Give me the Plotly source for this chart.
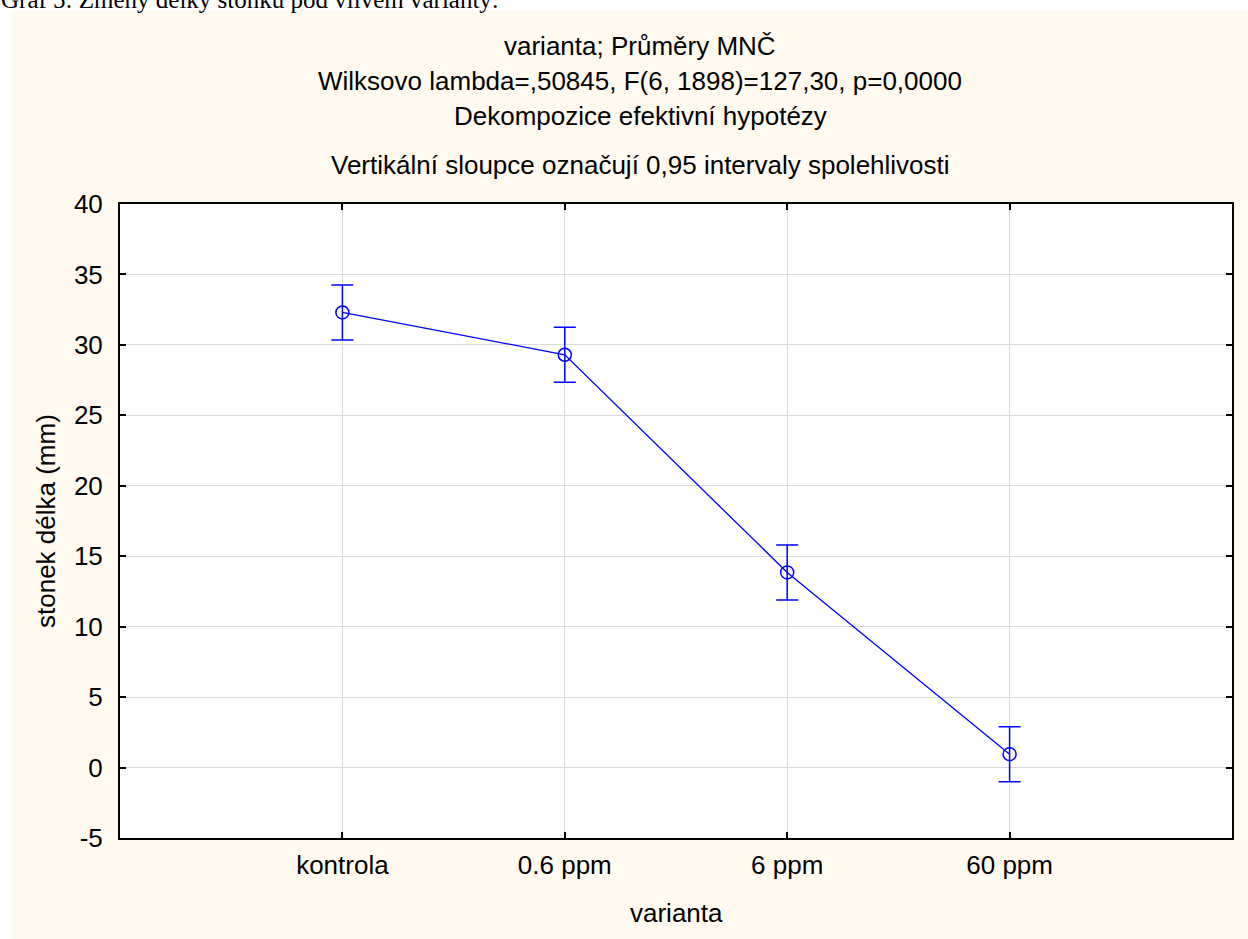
import plotly.graph_objects as go

categories = ["kontrola", "0.6 ppm", "6 ppm", "60 ppm"]
means = [32.3, 29.3, 13.85, 0.95]
ci_half = [1.95, 1.95, 1.95, 1.95]
y_ticks = [-5, 0, 5, 10, 15, 20, 25, 30, 35, 40]
y_tick_labels = ["-5", "0", "5", "10", "15", "20", "25", "30", "35", "40"]

title_lines = [
    "varianta; Průměry MNČ",
    "Wilksovo lambda=,50845, F(6, 1898)=127,30, p=0,0000",
    "Dekompozice efektivní hypotézy",
    "Vertikální sloupce označují 0,95 intervaly spolehlivosti",
]
caption = "Graf 5: Změny délky stonku pod vlivem varianty:"

W, H = 1248, 939
L, R, T, B = 120, 16, 204, 101
pw, ph = W - L - R, H - T - B

def px_x(px):
    return (px - L) / pw

def px_y(py):
    return (H - B - py) / ph

blue = "#0000FF"
cream = "#FFFAF0"
font = "Liberation Sans, Arial, sans-serif"
FS = 26

fig = go.Figure()
fig.add_trace(go.Scatter(
    x=categories, y=means, mode="lines+markers",
    line=dict(color=blue, width=1.3),
    marker=dict(symbol="circle-open", size=13, color=blue, line=dict(width=1.5, color=blue)),
    error_y=dict(type="data", array=ci_half, visible=True, color=blue, thickness=1.5, width=11),
    showlegend=False,
))

shapes = [
    dict(type="rect", xref="paper", yref="paper", x0=px_x(-5), x1=px_x(W + 5), y0=px_y(10), y1=px_y(-5),
         fillcolor="white", line=dict(width=0), layer="below"),
    dict(type="rect", xref="paper", yref="paper", x0=px_x(-5), x1=px_x(12), y0=px_y(H + 5), y1=px_y(-5),
         fillcolor="white", line=dict(width=0), layer="below"),
]

annotations = []
title_ys = [46, 81, 116, 165]
for txt, py in zip(title_lines, title_ys):
    annotations.append(dict(text=txt, xref="paper", yref="paper", x=px_x(640), y=px_y(py),
                            xanchor="center", yanchor="middle", showarrow=False,
                            font=dict(family=font, size=FS, color="black")))
annotations.append(dict(text=caption, xref="paper", yref="paper", x=px_x(-1), y=px_y(-1),
                        xanchor="left", yanchor="middle", showarrow=False,
                        font=dict(family="Liberation Serif, Times New Roman, serif", size=25, color="black")))
annotations.append(dict(text="varianta", xref="paper", yref="paper", x=px_x(676), y=px_y(913),
                        xanchor="center", yanchor="middle", showarrow=False,
                        font=dict(family=font, size=FS, color="black")))
annotations.append(dict(text="stonek délka (mm)", xref="paper", yref="paper", x=px_x(46), y=px_y(521),
                        xanchor="center", yanchor="middle", showarrow=False, textangle=-90,
                        font=dict(family=font, size=FS, color="black")))

fig.update_layout(
    width=W, height=H,
    margin=dict(l=L, r=R, t=T, b=B, pad=0),
    paper_bgcolor=cream, plot_bgcolor="white",
    shapes=shapes, annotations=annotations,
    font=dict(family=font, size=FS, color="black"),
    showlegend=False,
)
fig.update_xaxes(
    type="category", categoryorder="array", categoryarray=categories,
    range=[-1, 4], showgrid=True, gridcolor="#D9D9D9", gridwidth=1,
    showline=True, linecolor="black", linewidth=2, mirror="ticks",
    ticks="inside", ticklen=6, tickcolor="black", tickwidth=1.5,
    tickfont=dict(family=font, size=FS, color="black"), ticklabelstandoff=3,
    zeroline=False, fixedrange=True,
)
fig.update_yaxes(
    range=[-5, 40], tickvals=y_ticks, ticktext=y_tick_labels,
    showgrid=True, gridcolor="#D9D9D9", gridwidth=1,
    showline=True, linecolor="black", linewidth=2, mirror="ticks",
    ticks="inside", ticklen=6, tickcolor="black", tickwidth=1.5,
    tickfont=dict(family=font, size=FS, color="black"), ticklabelstandoff=10,
    zeroline=False, fixedrange=True,
)

fig.write_html("out.html")
